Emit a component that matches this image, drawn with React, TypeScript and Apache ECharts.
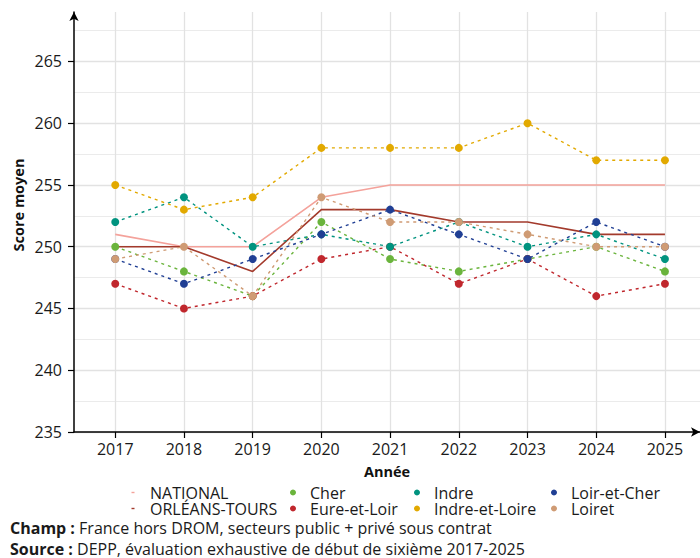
import React, { useEffect, useRef } from "react";
import * as echarts from "echarts";

const years = [2017, 2018, 2019, 2020, 2021, 2022, 2023, 2024, 2025];
const national = [251, 250, 250, 254, 255, 255, 255, 255, 255];
const orleansTours = [250, 250, 248, 253, 253, 252, 252, 251, 251];
const cher = [250, 248, 246, 252, 249, 248, 249, 250, 248];
const eureEtLoir = [247, 245, 246, 249, 250, 247, 249, 246, 247];
const indre = [252, 254, 250, 251, 250, 252, 250, 251, 249];
const indreEtLoire = [255, 253, 254, 258, 258, 258, 260, 257, 257];
const loirEtCher = [249, 247, 249, 251, 253, 251, 249, 252, 250];
const loiret = [249, 250, 246, 254, 252, 252, 251, 250, 250];
const yTicks = [235, 240, 245, 250, 255, 260, 265];
const yMinorLines = [237.5, 242.5, 247.5, 252.5, 257.5, 262.5, 267.5];

const FONT = "Open Sans";
const dashIcon = "path://M0,0 M24,6 M10.5,2.3 L13.5,2.3 L13.5,3.7 L10.5,3.7 Z";

export default function App() {
  const ref = useRef<HTMLDivElement>(null);
  useEffect(() => {
    if (!ref.current) return;
    const chart = echarts.init(ref.current, undefined, { renderer: "svg" });
    const mk = (name: string, data: number[], color: string, dashed: boolean, z: number) => ({
      name,
      type: "line",
      data: years.map((y, i) => [y, data[i]]),
      symbol: "circle",
      symbolSize: 8,
      showSymbol: dashed,
      z,
      lineStyle: { color, width: dashed ? 1.4 : 1.6, type: dashed ? [3, 4] : "solid" },
      itemStyle: { color },
      emphasis: { disabled: true },
    });
    const legendBase = {
      orient: "vertical",
      top: 484.5,
      padding: 0,
      itemWidth: 24,
      itemHeight: 6,
      itemGap: 0,
      selectedMode: false,
      textStyle: { fontFamily: FONT, fontSize: 16, lineHeight: 16, color: "#1a1a1a" },
    };
    const option: any = {
      animation: false,
      textStyle: { fontFamily: FONT },
      grid: { left: 74, right: 0, top: 12, bottom: 126 },
      xAxis: {
        type: "value",
        min: 2016.4,
        max: 2025.51,
        axisLine: {
          show: true,
          onZero: false,
          symbol: ["none", "arrow"],
          symbolSize: [7, 9],
          lineStyle: { color: "#000", width: 1.5 },
        },
        axisTick: { show: true, customValues: years, length: 6, lineStyle: { color: "#000", width: 1.2 } },
        axisLabel: {
          customValues: years,
          formatter: (v: number) => String(v),
          fontSize: 16,
          color: "#1a1a1a",
          margin: 9,
          fontFamily: FONT,
        },
        splitLine: { show: true, lineStyle: { color: "#e2e2e2", width: 1.3 } },
        name: "Année",
        nameLocation: "middle",
        nameGap: 32,
        nameTextStyle: { fontWeight: "bold", fontSize: 14.5, color: "#111", fontFamily: FONT },
      },
      yAxis: [
        {
          type: "value",
          min: 235,
          max: 269,
          position: "left",
          axisLine: {
            show: true,
            onZero: false,
            symbol: ["none", "arrow"],
            symbolSize: [7, 9],
            lineStyle: { color: "#000", width: 1.5 },
          },
          axisTick: { show: true, customValues: yTicks, length: 6, lineStyle: { color: "#000", width: 1.2 } },
          axisLabel: {
            customValues: yTicks,
            fontSize: 16,
            color: "#1a1a1a",
            margin: 12,
            fontFamily: FONT,
          },
          splitLine: { show: true, lineStyle: { color: "#e2e2e2", width: 1.3 } },
        },
        {
          type: "value",
          min: 235,
          max: 269,
          position: "left",
          axisLine: { show: false },
          axisTick: { show: false, customValues: yMinorLines },
          axisLabel: { show: false },
          splitLine: { show: true, lineStyle: { color: "#ebebeb", width: 1 } },
        },
      ],
      legend: [
        {
          ...legendBase,
          left: 121,
          data: [
            { name: "NATIONAL", icon: dashIcon },
            { name: "ORLÉANS-TOURS", icon: dashIcon },
          ],
        },
        { ...legendBase, left: 290, data: [{ name: "Cher", icon: "circle" }, { name: "Eure-et-Loir", icon: "circle" }] },
        { ...legendBase, left: 414, data: [{ name: "Indre", icon: "circle" }, { name: "Indre-et-Loire", icon: "circle" }] },
        { ...legendBase, left: 551, data: [{ name: "Loir-et-Cher", icon: "circle" }, { name: "Loiret", icon: "circle" }] },
      ],
      graphic: [
        {
          type: "text",
          x: 18,
          y: 205,
          rotation: Math.PI / 2,
          style: {
            text: "Score moyen",
            fontFamily: FONT,
            fontWeight: "bold",
            fontSize: 14.5,
            fill: "#111",
            align: "center",
            verticalAlign: "middle",
          },
        },
        {
          type: "text",
          x: 10,
          y: 528,
          style: {
            text: "{b|Champ :} France hors DROM, secteurs public + privé sous contrat",
            fontFamily: FONT,
            fontSize: 16,
            lineHeight: 17,
            fill: "#1a1a1a",
            verticalAlign: "middle",
            rich: { b: { fontWeight: "bold", fontFamily: FONT, fontSize: 16, lineHeight: 17, fill: "#1a1a1a" } },
          },
        },
        {
          type: "text",
          x: 10,
          y: 548.5,
          style: {
            text: "{b|Source :} DEPP, évaluation exhaustive de début de sixième 2017-2025",
            fontFamily: FONT,
            fontSize: 16,
            lineHeight: 17,
            fill: "#1a1a1a",
            verticalAlign: "middle",
            rich: { b: { fontWeight: "bold", fontFamily: FONT, fontSize: 16, lineHeight: 17, fill: "#1a1a1a" } },
          },
        },
      ],
      series: [
        mk("NATIONAL", national, "#f4a29b", false, 2),
        mk("ORLÉANS-TOURS", orleansTours, "#a33a2c", false, 3),
        mk("Cher", cher, "#6ab43c", true, 4),
        mk("Eure-et-Loir", eureEtLoir, "#c0272d", true, 5),
        mk("Indre", indre, "#00937f", true, 6),
        mk("Indre-et-Loire", indreEtLoire, "#e2a900", true, 7),
        mk("Loir-et-Cher", loirEtCher, "#203f94", true, 8),
        mk("Loiret", loiret, "#cf9b74", true, 9),
      ],
    };
    chart.setOption(option);
    return () => chart.dispose();
  }, []);
  return (
    <div
      ref={ref}
      style={{ position: "absolute", left: 0, top: 0, width: 700, height: 558, background: "#fff" }}
    />
  );
}
